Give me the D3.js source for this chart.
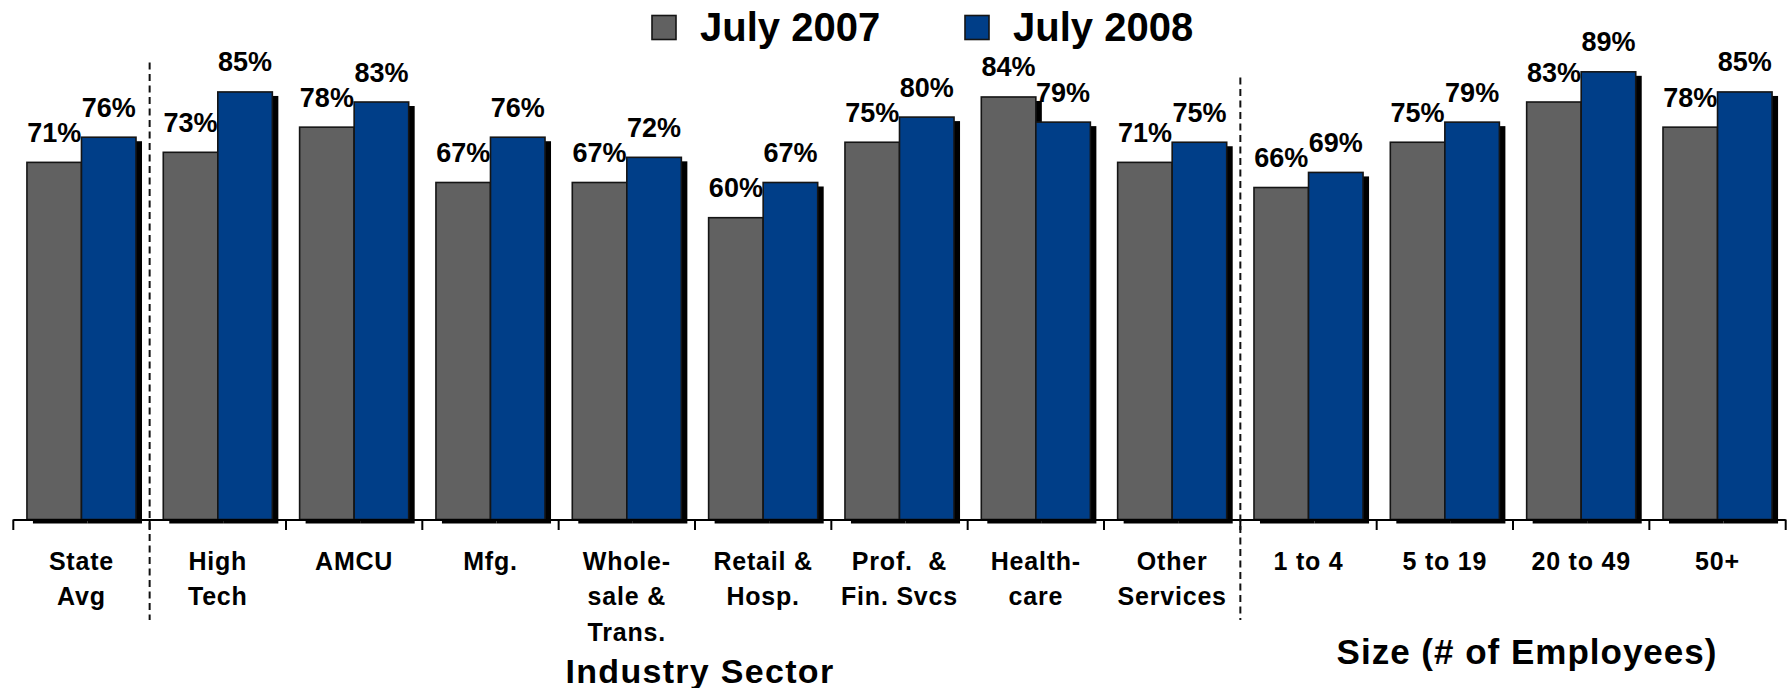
<!DOCTYPE html>
<html>
<head>
<meta charset="utf-8">
<script src="https://cdn.jsdelivr.net/npm/d3@7"></script>
<style>
  html, body { margin: 0; padding: 0; background: #fff; }
  svg text { font-family: "Liberation Sans", Arial, Helvetica, sans-serif; font-weight: bold; fill: #000; }
</style>
</head>
<body>
<svg id="chart" width="1787" height="688"></svg>
<script>
// ---- data ----
const categories = ["State Avg", "High Tech", "AMCU", "Mfg.", "Wholesale & Trans.", "Retail & Hosp.",
  "Prof. & Fin. Svcs", "Healthcare", "Other Services", "1 to 4", "5 to 19", "20 to 49", "50+"];
const categoryLines = [["State", "Avg"], ["High", "Tech"], ["AMCU"], ["Mfg."], ["Whole-", "sale &", "Trans."],
  ["Retail &", "Hosp."], ["Prof.  &", "Fin. Svcs"], ["Health-", "care"], ["Other", "Services"],
  ["1 to 4"], ["5 to 19"], ["20 to 49"], ["50+"]];
const seriesNames = ["July 2007", "July 2008"];
const july2007 = [71, 73, 78, 67, 67, 60, 75, 84, 71, 66, 75, 83, 78];
const july2008 = [76, 85, 83, 76, 72, 67, 80, 79, 75, 69, 79, 89, 85];
const groupBreaks = ["High Tech", "1 to 4"];   // dashed separators before these categories
const groupTitles = ["Industry Sector", "Size (# of Employees)"];

const colors = { "July 2007": "#616161", "July 2008": "#003E88" };

const svg = d3.select("#chart");

const x = d3.scaleBand().domain(categories).range([13.3, 1785.7]).paddingInner(0).paddingOuter(0);
const x1 = d3.scaleBand().domain(seriesNames).range([0, x.bandwidth()]).paddingInner(0).paddingOuter(0.25);
const y = d3.scaleLinear().domain([0, 100]).range([519.5, 16.5]);

const rows = [];
categories.forEach((c, i) => {
  rows.push({ cat: c, s: "July 2007", v: july2007[i] });
  rows.push({ cat: c, s: "July 2008", v: july2008[i] });
});

// shadows
svg.append("g").selectAll("rect").data(rows).join("rect")
  .attr("x", d => x(d.cat) + x1(d.s) + 6)
  .attr("y", d => y(d.v) + 4)
  .attr("width", x1.bandwidth())
  .attr("height", d => y(0) - y(d.v))
  .attr("fill", "#000");

// bars
svg.append("g").selectAll("rect").data(rows).join("rect")
  .attr("x", d => x(d.cat) + x1(d.s))
  .attr("y", d => y(d.v))
  .attr("width", x1.bandwidth())
  .attr("height", d => y(0) - y(d.v))
  .attr("fill", d => colors[d.s])
  .attr("stroke", "#151515")
  .attr("stroke-width", 1.6);

// axis line
const axisG = svg.append("g");
axisG.append("line")
  .attr("x1", x.range()[0]).attr("x2", x.range()[1])
  .attr("y1", y(0) + 0.5).attr("y2", y(0) + 0.5)
  .attr("stroke", "#000").attr("stroke-width", 2.2);
const tickPos = categories.map(c => x(c)).concat([x.range()[1]]);
axisG.selectAll("line.tick").data(tickPos).join("line")
  .attr("class", "tick")
  .attr("x1", d => d).attr("x2", d => d)
  .attr("y1", y(0)).attr("y2", y(0) + 10.5)
  .attr("stroke", "#000").attr("stroke-width", 2);

// dashed separators
const sepTops = [62.5, 77.5];
groupBreaks.forEach((c, i) => {
  svg.append("line")
    .attr("x1", x(c)).attr("x2", x(c))
    .attr("y1", sepTops[i]).attr("y2", 620)
    .attr("stroke", "#111").attr("stroke-width", 2)
    .attr("stroke-dasharray", "7,4.5");
});

// value labels
svg.append("g").selectAll("text").data(rows).join("text")
  .attr("x", d => x(d.cat) + x1(d.s) + x1.bandwidth() / 2)
  .attr("y", d => y(d.v) - 20.5)
  .attr("text-anchor", "middle")
  .attr("font-size", 27)
  .text(d => d.v + "%");

// category labels
const catG = svg.append("g");
categories.forEach((c, i) => {
  const t = catG.append("text")
    .attr("x", x(c) + x.bandwidth() / 2)
    .attr("text-anchor", "middle")
    .attr("font-size", 25)
    .attr("letter-spacing", 0.8);
  categoryLines[i].forEach((ln, j) => {
    t.append("tspan")
      .attr("x", x(c) + x.bandwidth() / 2)
      .attr("y", 570 + j * 35.3)
      .attr("xml:space", "preserve")
      .text(ln);
  });
});

// group titles
svg.append("text").attr("x", 700).attr("y", 682.5).attr("text-anchor", "middle")
  .attr("font-size", 34).attr("letter-spacing", 1.3).text(groupTitles[0]);
svg.append("text").attr("x", 1527).attr("y", 664).attr("text-anchor", "middle")
  .attr("font-size", 35).attr("letter-spacing", 1).text(groupTitles[1]);

// legend
const legendX = [652, 965];
seriesNames.forEach((s, i) => {
  svg.append("rect")
    .attr("x", legendX[i]).attr("y", 15.5)
    .attr("width", 24).attr("height", 24)
    .attr("fill", colors[s]).attr("stroke", "#151515").attr("stroke-width", 1.6);
  svg.append("text")
    .attr("x", legendX[i] + 48).attr("y", 40.7)
    .attr("font-size", 40)
    .text(s);
});
</script>
</body>
</html>
